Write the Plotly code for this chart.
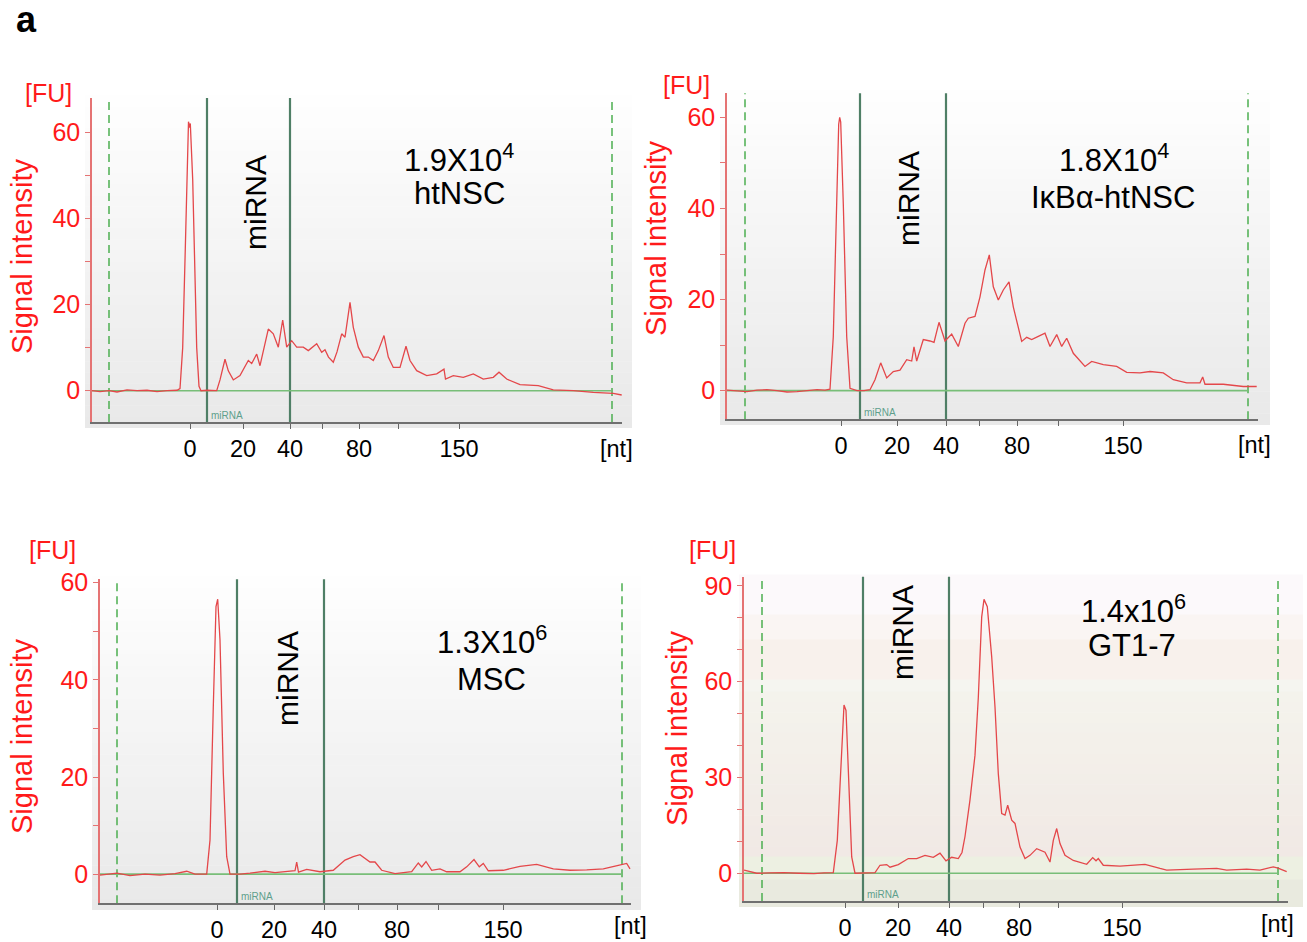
import plotly.graph_objects as go

# ---------------- DATA (migration position in a.u., signal in FU) ----------------
# Panel 1: htNSC
p1_pos = [0, 8, 17, 25, 35, 45, 55, 65, 75, 85, 88, 90.7, 93.3, 94.7, 96.5, 97.5, 98.3, 100.7, 102.3, 104.7,
          107, 109, 115, 124.7, 128, 133, 136.3, 141.3, 148, 156.3, 159.7, 164.7, 168, 176.3, 181.3, 186.3,
          190.7, 194.7, 199.7, 204.7, 211.3, 216.3, 224.7, 229.7, 233, 236.5, 241.3, 245, 249.7, 253, 258,
          261.3, 266.3, 271.3, 276.3, 281.3, 286.3, 292, 296.3, 301.3, 308, 314, 318, 324.7, 334.7, 344.7,
          352, 353.5, 361.3, 371.3, 381.3, 391.3, 401.3, 407, 414.7, 428, 446.3, 461.3, 481.3, 501.3, 521.3, 529.7]
p1_fu = [0, -0.2, 0, -0.3, 0.2, 0, 0.1, -0.2, 0, 0.1, 0.5, 10, 33, 49, 62.4, 61, 62, 49, 33, 10,
         1, 0, 0.1, 0, 2.5, 7.3, 4.6, 2.5, 3.5, 7, 6.3, 8.5, 5.8, 14.3, 13.2, 10.1,
         16.4, 10.1, 11.6, 10.1, 10.1, 9.3, 10.9, 8.9, 9.5, 7.8, 6.6, 9, 13.2, 12.4, 20.5,
         14.7, 10.1, 7.8, 7.8, 7.0, 9.3, 12.8, 7.8, 5.4, 5.4, 10.3, 7.0, 4.65, 3.5, 3.9,
         5.0, 2.7, 3.5, 3.1, 3.9, 2.7, 3.1, 4.3, 2.7, 1.4, 1.2, 0.2, 0, -0.4, -0.6, -1.0]
p1_ladder = [98, 151, 198, 267, 367]
p1_ladder_minor = [230, 306]
p1_marks = [17, 115, 198, 520]          # lower marker, miRNA start, miRNA end, upper marker

# Panel 2: IkBa-htNSC
p2_pos = [0, 10, 20, 30, 40, 50, 60, 70, 80, 90, 98, 103, 106.3, 109.7, 111.7, 112.7, 113.7, 116.3, 119.7, 123,
          130, 137, 143, 148, 153.7, 159.7, 166.3, 173, 179.7, 184.7, 187, 189.7, 196.3, 203, 207, 212, 218,
          224.7, 231.3, 238, 241.3, 248, 253, 258, 262.3, 266.3, 271.3, 276.3, 282, 286.3, 291.3, 294.7, 299.7,
          304.7, 311.3, 318, 323, 329.7, 334.7, 339.7, 346.3, 353, 358, 364.7, 376.3, 389.7, 399.7, 413, 423,
          436.3, 446.3, 459.7, 473, 475.7, 478, 496.3, 516.3, 529.7]
p2_fu = [0.1, 0, -0.2, 0.1, 0.2, 0, -0.3, -0.2, 0, 0.2, 0.1, 0.3, 11.9, 41, 58.5, 60, 59, 41, 11.9, 0.5,
         0, 0, 0.2, 2.4, 6.1, 2.8, 4.2, 4.5, 6.8, 6.5, 9.6, 6.5, 11.2, 10.9, 10.6, 15.0, 10.9,
         12.4, 9.7, 14.8, 15.9, 16.3, 20.6, 26.5, 29.8, 22.8, 19.9, 22.1, 23.9, 18.4, 14.1, 10.8, 11.7,
         11.2, 11.9, 12.6, 9.7, 12.3, 9.7, 11.5, 8.2, 6.4, 5.3, 6.4, 5.7, 5.3, 4.0, 3.9, 4.2,
         3.9, 2.4, 1.7, 1.7, 3.0, 1.4, 1.4, 0.9, 0.9]
p2_ladder = [114, 170, 219, 290, 396]
p2_ladder_minor = [252, 331]
p2_marks = [18, 133, 219, 521]

# Panel 3: MSC
p3_pos = [0, 10, 17, 30, 45, 60, 75, 86.7, 95, 106.7, 110, 113.3, 116, 117.7, 120, 123.3, 126.7, 130, 140, 150,
          165, 175, 185, 195, 196.7, 198.5, 206.7, 215, 220, 233.3, 245, 253.3, 260, 270, 275, 281.7, 295,
          311.7, 318.3, 321.7, 326, 331.7, 340, 346.7, 360, 366.7, 374, 379.3, 383.3, 388.3, 403.3, 420,
          436.7, 453.3, 470, 486.7, 503.3, 518.3, 526.7, 530]
p3_fu = [-0.2, 0, 0.2, -0.3, 0, -0.2, 0.1, 0.6, 0, 0, 7, 34.5, 55.1, 56.6, 48.2, 20.8, 3.6, 0, 0, 0.2,
         0.6, 0.3, 0.5, 0.7, 2.5, 0.4, 1.0, 0.6, 0.5, 0.8, 2.9, 3.6, 4.0, 2.5, 2.5, 0.8, 0.1,
         0.5, 2.3, 1.5, 2.6, 0.8, 1.1, 0.5, 0.5, 1.5, 3.0, 1.5, 2.2, 0.7, 0.8, 1.6,
         2.0, 1.1, 0.8, 0.9, 1.1, 1.8, 2.2, 1.1]
p3_ladder = [117, 174, 224, 297, 403]
p3_ladder_minor = [258, 338]
p3_marks = [17, 137, 224, 522]

# Panel 4: GT1-7
p4_pos = [0, 8, 12.7, 25, 40, 55, 70, 80, 89.3, 93.3, 96.7, 100, 102, 104.3, 107.7, 111, 120, 131, 136, 142.7,
          146, 154.3, 164.3, 172.7, 181, 189.3, 196, 202, 207.7, 214.3, 218, 221, 226, 231, 234.3, 237.7, 240,
          243.3, 247.7, 251, 254.3, 257.7, 261, 263.7, 267.7, 271, 276, 281, 286, 292.7, 301, 306, 309.3,
          312.7, 316, 321, 329.3, 342.7, 348.7, 352, 354.3, 359.3, 376, 389.3, 401, 416, 422.7, 449.3, 472.7,
          482.7, 502.7, 516, 529.3, 534, 542.7]
p4_fu = [1.0, 0.5, 0, 0.1, 0.2, 0, -0.1, 0.1, 0.2, 10.3, 31.2, 52.7, 51, 31.2, 5.1, 0, 0, 0.2, 2.5, 2.7,
         1.9, 2.7, 4.6, 4.6, 5.6, 5.0, 6.3, 3.9, 5.0, 4.6, 6.5, 11.5, 23, 37, 55, 80.3, 85.8,
         83.5, 67.8, 52.1, 31.2, 18.7, 18.2, 21.3, 16.6, 15.6, 8.2, 4.6, 5.6, 7.7, 6.6, 3.5, 10.3,
         14.0, 9.3, 5.6, 4.0, 2.8, 4.9, 3.9, 4.6, 2.5, 2.2, 2.5, 2.8, 1.5, 1.0, 1.3, 1.5,
         1.0, 1.3, 1.0, 2.0, 1.6, 0.5]
p4_ladder = [101, 154, 205, 275, 378]
p4_ladder_minor = [239, 314]
p4_marks = [18, 119, 205, 534]

ladder_labels = ["0", "20", "40", "80", "150"]
fu_ticks_60 = [0, 20, 40, 60]
fu_minor_60 = [10, 30, 50]
fu_ticks_90 = [0, 30, 60, 90]
fu_minor_90 = [10, 20, 40, 50, 70, 80]

counts = ["1.9X10<sup>4</sup>", "1.8X10<sup>4</sup>", "1.3X10<sup>6</sup>", "1.4x10<sup>6</sup>"]
samples = ["htNSC", "IκBα-htNSC", "MSC", "GT1-7"]

for a, b in [(p1_pos, p1_fu), (p2_pos, p2_fu), (p3_pos, p3_fu), (p4_pos, p4_fu)]:
    assert len(a) == len(b), (len(a), len(b))

# ---------------- LAYOUT ----------------
W, H = 1307, 942
FONT = "Liberation Sans, Arial, sans-serif"
RED = "#ff1a1a"


def px(x):
    return x / W


def py(y):
    return 1 - y / H


panels = [
    dict(pos=p1_pos, fu=p1_fu, ladder=p1_ladder, lmin=p1_ladder_minor, marks=p1_marks,
         yt=fu_ticks_60, ym=fu_minor_60,
         box=(92, 622, 98, 422), xr=[0, 530], yr=[-7.26, 67.9], bg=(85, 632, 96, 428), kind="gray",
         fu_lab=(48, 93), sig=(22, 256), mir=(255, 203), cnt=(459, 158), smp=(459, 194), nt=(616, 449)),
    dict(pos=p2_pos, fu=p2_fu, ladder=p2_ladder, lmin=p2_ladder_minor, marks=p2_marks,
         yt=fu_ticks_60, ym=fu_minor_60,
         box=(727, 1258, 93.3, 419.3), xr=[0, 531], yr=[-6.3, 65.3], bg=(720, 1270, 91, 425), kind="gray",
         fu_lab=(686, 85), sig=(656, 238), mir=(908, 199), cnt=(1114, 158), smp=(1113, 197), nt=(1254, 445)),
    dict(pos=p3_pos, fu=p3_fu, ladder=p3_ladder, lmin=p3_ladder_minor, marks=p3_marks,
         yt=fu_ticks_60, ym=fu_minor_60,
         box=(100, 631, 579.3, 903.3), xr=[0, 531], yr=[-6.0, 60.7], bg=(92, 641, 577, 910), kind="gray",
         fu_lab=(52, 550), sig=(22, 736), mir=(287, 679), cnt=(492, 640), smp=(492, 679), nt=(630, 926)),
    dict(pos=p4_pos, fu=p4_fu, ladder=p4_ladder, lmin=p4_ladder_minor, marks=p4_marks,
         yt=fu_ticks_90, ym=fu_minor_90,
         box=(744, 1288, 576.7, 901), xr=[0, 544], yr=[-8.7, 92.9], bg=(739, 1303, 575, 907), kind="tint",
         fu_lab=(712, 550), sig=(677, 728), mir=(902, 633), cnt=(1133, 609), smp=(1132, 645), nt=(1277, 924)),
]

fig = go.Figure()
shapes = []
annotations = []
layout_axes = {}


def lerp_color(c0, c1, t):
    a = [int(c0[i:i + 2], 16) for i in (1, 3, 5)]
    b = [int(c1[i:i + 2], 16) for i in (1, 3, 5)]
    return "rgb(%d,%d,%d)" % tuple(round(a[k] + (b[k] - a[k]) * t) for k in range(3))


for i, p in enumerate(panels):
    n = "" if i == 0 else str(i + 1)
    xa, ya = "x" + n, "y" + n
    L, R, T, B = p["box"]

    # background (gradient bands)
    bx0, bx1, by0, by1 = p["bg"]
    if p["kind"] == "gray":
        bands = []
        nb = 30
        for k in range(nb):
            t0 = by0 + (by1 - by0) * k / nb
            t1 = by0 + (by1 - by0) * (k + 1) / nb
            bands.append((t0, t1, lerp_color("#fefefe", "#e9e9e9", k / (nb - 1))))
    else:
        bands = [(by0, 615, "#fcf9fb"), (615, 640, "#faf5f3"), (640, 680, "#f8f1ec"),
                 (680, 692, "#f5f5f0")]
        nb = 16
        for k in range(nb):
            t0 = 692 + (857 - 692) * k / nb
            t1 = 692 + (857 - 692) * (k + 1) / nb
            bands.append((t0, t1, lerp_color("#f4f3ec", "#f1e9e5", k / (nb - 1))))
        bands += [(857, 880, "#edf0e2"), (880, by1, "#e9eadf")]
    for (t0, t1, c) in bands:
        shapes.append(dict(type="rect", xref="paper", yref="paper", x0=px(bx0), x1=px(bx1),
                           y0=py(t1), y1=py(t0) + 0.0005, line=dict(width=0), fillcolor=c, layer="below"))

    # curve
    fig.add_trace(go.Scatter(x=p["pos"], y=p["fu"], mode="lines", xaxis=xa, yaxis=ya,
                             line=dict(color="#e4474a", width=1.3), showlegend=False, hoverinfo="skip"))

    m = p["marks"]
    # baseline
    shapes.append(dict(type="line", xref=xa, yref=ya, x0=0, x1=m[3], y0=0, y1=0,
                       line=dict(color="#78be78", width=1.6), layer="below"))
    # dashed markers
    for xv in (m[0], m[3]):
        shapes.append(dict(type="line", xref=xa, yref=ya + " domain", x0=xv, x1=xv, y0=0, y1=1,
                           line=dict(color="#4caf50", width=1.5, dash="8px,5px"), layer="below"))
    # miRNA region
    for xv in (m[1], m[2]):
        shapes.append(dict(type="line", xref=xa, yref=ya + " domain", x0=xv, x1=xv, y0=0, y1=1,
                           line=dict(color="#4f7f66", width=2.2), layer="below"))

    layout_axes["xaxis" + n] = dict(
        domain=[px(L), px(R)], range=p["xr"], anchor=ya, automargin=False, tickmode="array",
        tickvals=p["ladder"], ticktext=ladder_labels, ticks="outside", ticklen=5, tickwidth=1.2,
        tickcolor="#666666", showline=True, linecolor="#707070", linewidth=1.5, showgrid=False,
        zeroline=False, tickfont=dict(size=23.5, color="black", family=FONT), ticklabelstandoff=0,
        minor=dict(tickmode="array", tickvals=p["lmin"], ticks="outside", ticklen=5, tickwidth=1.2,
                   tickcolor="#666666", showgrid=False),
        fixedrange=True)
    layout_axes["yaxis" + n] = dict(
        domain=[py(B), py(T)], range=p["yr"], anchor=xa, automargin=False, tickmode="array",
        tickvals=p["yt"], ticks="outside", ticklen=5, tickwidth=1.2,
        tickcolor="#e57373", showline=True, linecolor="#e57373", linewidth=1.5, showgrid=False,
        zeroline=False, tickfont=dict(size=25, color=RED, family=FONT), ticklabelstandoff=0,
        minor=dict(tickmode="array", tickvals=p["ym"], ticks="outside", ticklen=5, tickwidth=1.2,
                   tickcolor="#e57373", showgrid=False),
        fixedrange=True)

    def ann(text, pos, size, color="black", angle=0):
        annotations.append(dict(text=text, xref="paper", yref="paper", x=px(pos[0]), y=py(pos[1]),
                                xanchor="center", yanchor="middle", showarrow=False, textangle=angle,
                                font=dict(size=size, color=color, family=FONT)))

    ann("[FU]", p["fu_lab"], 25, RED)
    ann("Signal intensity", p["sig"], 29, RED, -90)
    ann("miRNA", p["mir"], 30, "black", -90)
    ann(counts[i], p["cnt"], 31)
    ann(samples[i], p["smp"], 31)
    ann("[nt]", p["nt"], 23.5)
    # small in-plot region label
    annotations.append(dict(text="miRNA", xref=xa, yref=ya + " domain", x=m[1], y=0,
                            xanchor="left", yanchor="bottom", xshift=2, yshift=-1, showarrow=False,
                            font=dict(size=10, color="#5f9f8c", family=FONT)))

annotations.append(dict(text="<b>a</b>", xref="paper", yref="paper", x=px(26), y=py(20),
                        xanchor="center", yanchor="middle", showarrow=False,
                        font=dict(size=36, color="black", family=FONT)))

fig.update_layout(
    width=W, height=H, margin=dict(l=0, r=0, t=0, b=0, autoexpand=False),
    paper_bgcolor="white", plot_bgcolor="rgba(0,0,0,0)",
    font=dict(family=FONT), shapes=shapes, annotations=annotations, showlegend=False,
    **layout_axes)

fig.write_html("out.html")
